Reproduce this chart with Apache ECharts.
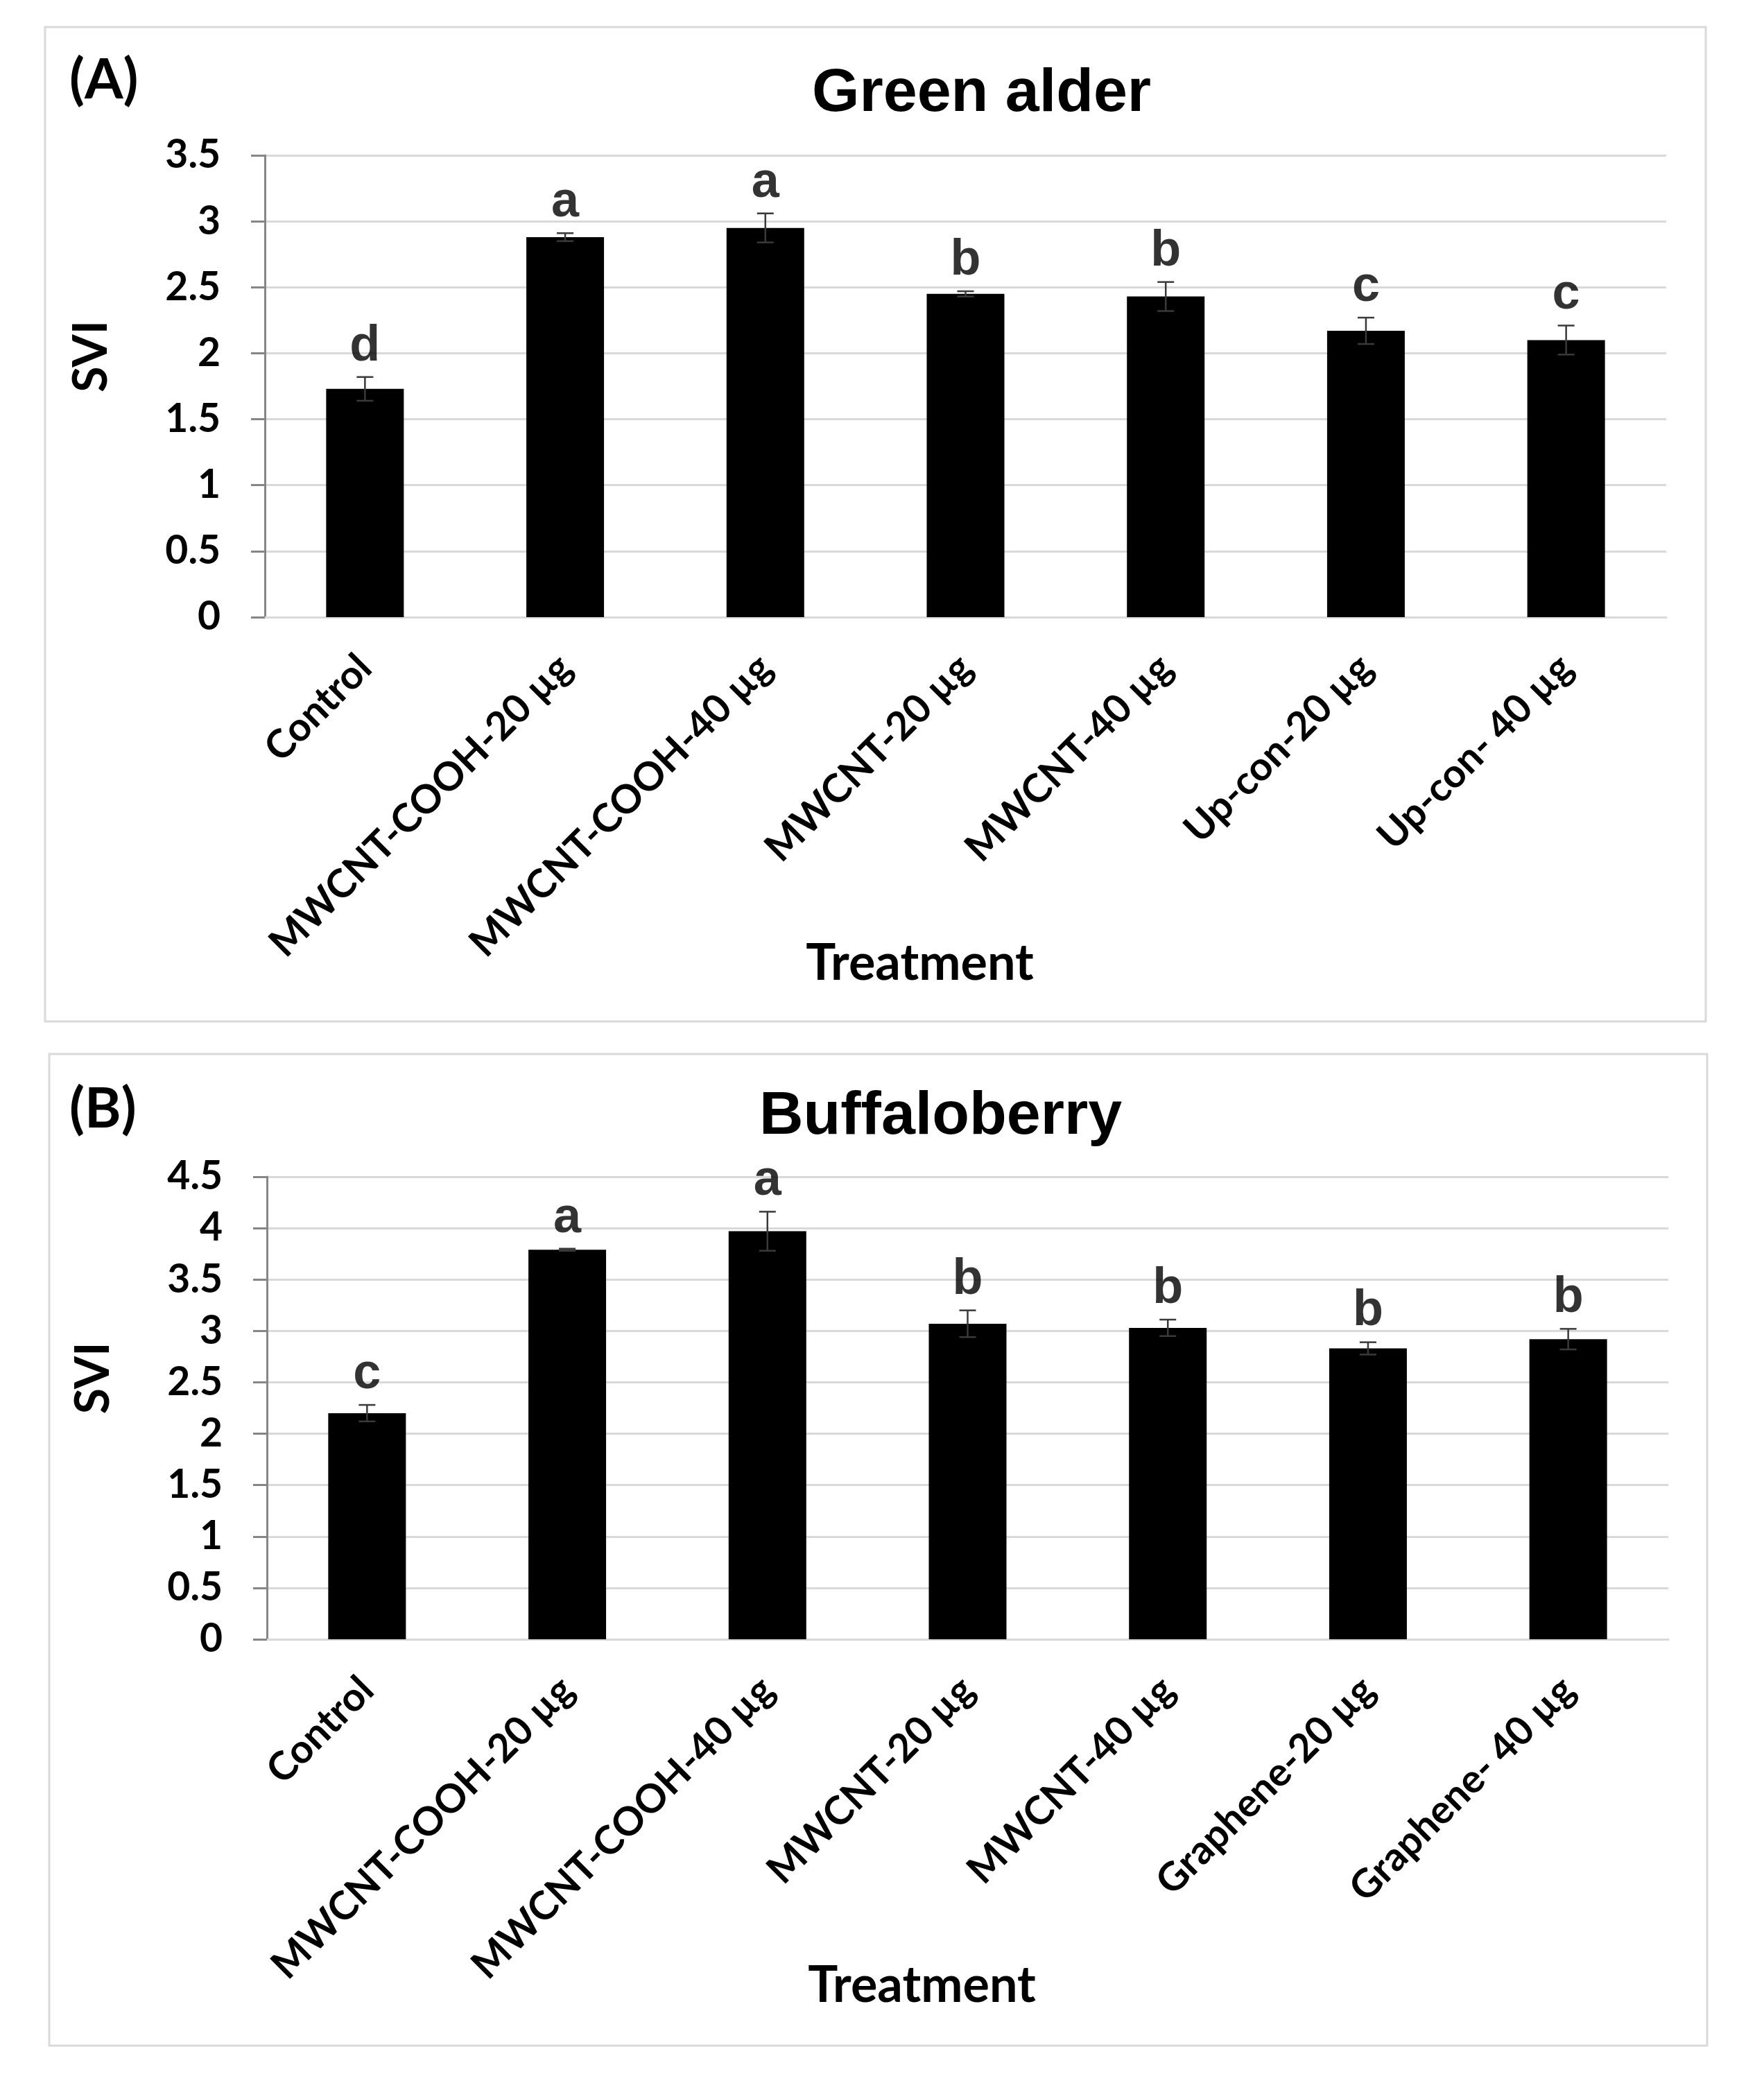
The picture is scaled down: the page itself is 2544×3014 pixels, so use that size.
<!DOCTYPE html>
<html lang="en">
<head>
  <meta charset="UTF-8">
  <title>SVI - Green alder / Buffaloberry</title>
  <script src="https://cdn.jsdelivr.net/npm/echarts@6/dist/echarts.min.js"></script>
  <style>
    html, body { margin: 0; padding: 0; background: #fff; }
    #chart { width: 2544px; height: 3014px; }
  </style>
</head>
<body>
<div id="chart"></div>
<script>
  // panel A: Green alder
  const catsA = ['Control', 'MWCNT-COOH-20 µg', 'MWCNT-COOH-40 µg', 'MWCNT-20 µg', 'MWCNT-40 µg', 'Up-con-20 µg', 'Up-con- 40 µg'];
  const valsA = [1.73, 2.88, 2.95, 2.45, 2.43, 2.17, 2.10];
  const errA = [0.09, 0.03, 0.11, 0.02, 0.11, 0.10, 0.11];
  const lettersA = ['d', 'a', 'a', 'b', 'b', 'c', 'c'];

  // panel B: Buffaloberry
  const catsB = ['Control', 'MWCNT-COOH-20 µg', 'MWCNT-COOH-40 µg', 'MWCNT-20 µg', 'MWCNT-40 µg', 'Graphene-20 µg', 'Graphene- 40 µg'];
  const valsB = [2.20, 3.79, 3.97, 3.07, 3.03, 2.83, 2.92];
  const errB = [0.08, 0.01, 0.19, 0.13, 0.08, 0.06, 0.10];
  const lettersB = ['c', 'a', 'a', 'b', 'b', 'b', 'b'];

  const sans = 'Lato, "Noto Sans", sans-serif';
  const arial = '"Liberation Sans", Arial, sans-serif';

  let chart = echarts.init(document.getElementById('chart'), null, {renderer: 'canvas'});

  // error bar: vertical whisker with caps
  function errItem(params, api) {
    let top = api.coord([api.value(0), api.value(2)]);
    let bot = api.coord([api.value(0), api.value(1)]);
    let w = 12;
    let st = {stroke: '#3a3a3a', lineWidth: 2.5};
    return {
      type: 'group',
      children: [
        {type: 'line', shape: {x1: top[0], y1: top[1], x2: bot[0], y2: bot[1]}, style: st},
        {type: 'line', shape: {x1: top[0] - w, y1: top[1], x2: top[0] + w, y2: top[1]}, style: st},
        {type: 'line', shape: {x1: bot[0] - w, y1: bot[1], x2: bot[0] + w, y2: bot[1]}, style: st}
      ]
    };
  }

  function xAxisFor(cats, idx) {
    return {
      type: 'category',
      gridIndex: idx,
      data: cats,
      name: 'Treatment',
      nameLocation: 'middle',
      nameGap: 464,
      nameMoveOverlap: false,
      nameTextStyle: {fontFamily: sans, fontWeight: 'bold', fontSize: 72, color: '#000', padding: [0, 132, 0, 0]},
      axisLine: {lineStyle: {color: '#d9d9d9', width: 3}},
      axisTick: {show: false},
      axisLabel: {
        interval: 0, rotate: 45, margin: 64,
        fontFamily: sans, fontWeight: 'bold', fontSize: 57, color: '#000'
      }
    };
  }

  function yAxisFor(max, idx) {
    return {
      type: 'value',
      gridIndex: idx,
      min: 0, max: max, interval: 0.5,
      name: 'SVI',
      nameLocation: 'middle',
      nameGap: 216,
      nameMoveOverlap: false,
      nameTextStyle: {fontFamily: sans, fontWeight: 'bold', fontSize: 68, color: '#000', padding: [0, 0, 0, 86]},
      axisLine: {show: true, lineStyle: {color: '#868686', width: 3}},
      axisTick: {show: true, length: 20, lineStyle: {color: '#868686', width: 3}},
      axisLabel: {margin: 64, fontFamily: sans, fontWeight: 'bold', fontSize: 57, color: '#000'},
      splitLine: {lineStyle: {color: '#d9d9d9', width: 3}}
    };
  }

  function seriesFor(vals, errs, letters, idx) {
    return [
      {
        type: 'bar', xAxisIndex: idx, yAxisIndex: idx,
        data: vals, barWidth: 112,
        itemStyle: {color: '#000'}
      },
      {
        type: 'custom', xAxisIndex: idx, yAxisIndex: idx,
        renderItem: errItem,
        data: vals.map((v, i) => [i, v - errs[i], v + errs[i]]),
        z: 5
      },
      {
        type: 'scatter', xAxisIndex: idx, yAxisIndex: idx,
        symbolSize: 0, silent: true,
        data: vals.map((v, i) => [i, v + errs[i]]),
        label: {
          show: true, position: 'top', distance: 8,
          formatter: p => letters[p.dataIndex],
          fontFamily: arial, fontWeight: 'bold', fontSize: 72, color: '#000'
        }
      }
    ];
  }

  let option = {
    animation: false,
    backgroundColor: '#fff',
    title: [
      {text: '(A)', left: 100, top: 76, padding: 0, textStyle: {fontFamily: sans, fontWeight: 'bold', fontSize: 80, color: '#000'}},
      {text: 'Green alder', left: 1171, top: 92, padding: 0, textStyle: {fontFamily: arial, fontWeight: 'bold', fontSize: 88, color: '#000'}},
      {text: '(B)', left: 100, top: 1560, padding: 0, textStyle: {fontFamily: sans, fontWeight: 'bold', fontSize: 80, color: '#000'}},
      {text: 'Buffaloberry', left: 1095, top: 1567, padding: 0, textStyle: {fontFamily: arial, fontWeight: 'bold', fontSize: 88, color: '#000'}}
    ],
    graphic: [
      {type: 'rect', shape: {x: 65, y: 39, width: 2395, height: 1434}, style: {fill: 'none', stroke: '#d9d9d9', lineWidth: 3}, z: -1},
      {type: 'rect', shape: {x: 71, y: 1520, width: 2391, height: 1430}, style: {fill: 'none', stroke: '#d9d9d9', lineWidth: 3}, z: -1}
    ],
    grid: [
      {left: 382, top: 224, width: 2021, height: 666},
      {left: 385, top: 1697, width: 2021, height: 667}
    ],
    xAxis: [xAxisFor(catsA, 0), xAxisFor(catsB, 1)],
    yAxis: [yAxisFor(3.5, 0), yAxisFor(4.5, 1)],
    series: seriesFor(valsA, errA, lettersA, 0).concat(seriesFor(valsB, errB, lettersB, 1))
  };
  chart.setOption(option);
</script>
</body>
</html>
